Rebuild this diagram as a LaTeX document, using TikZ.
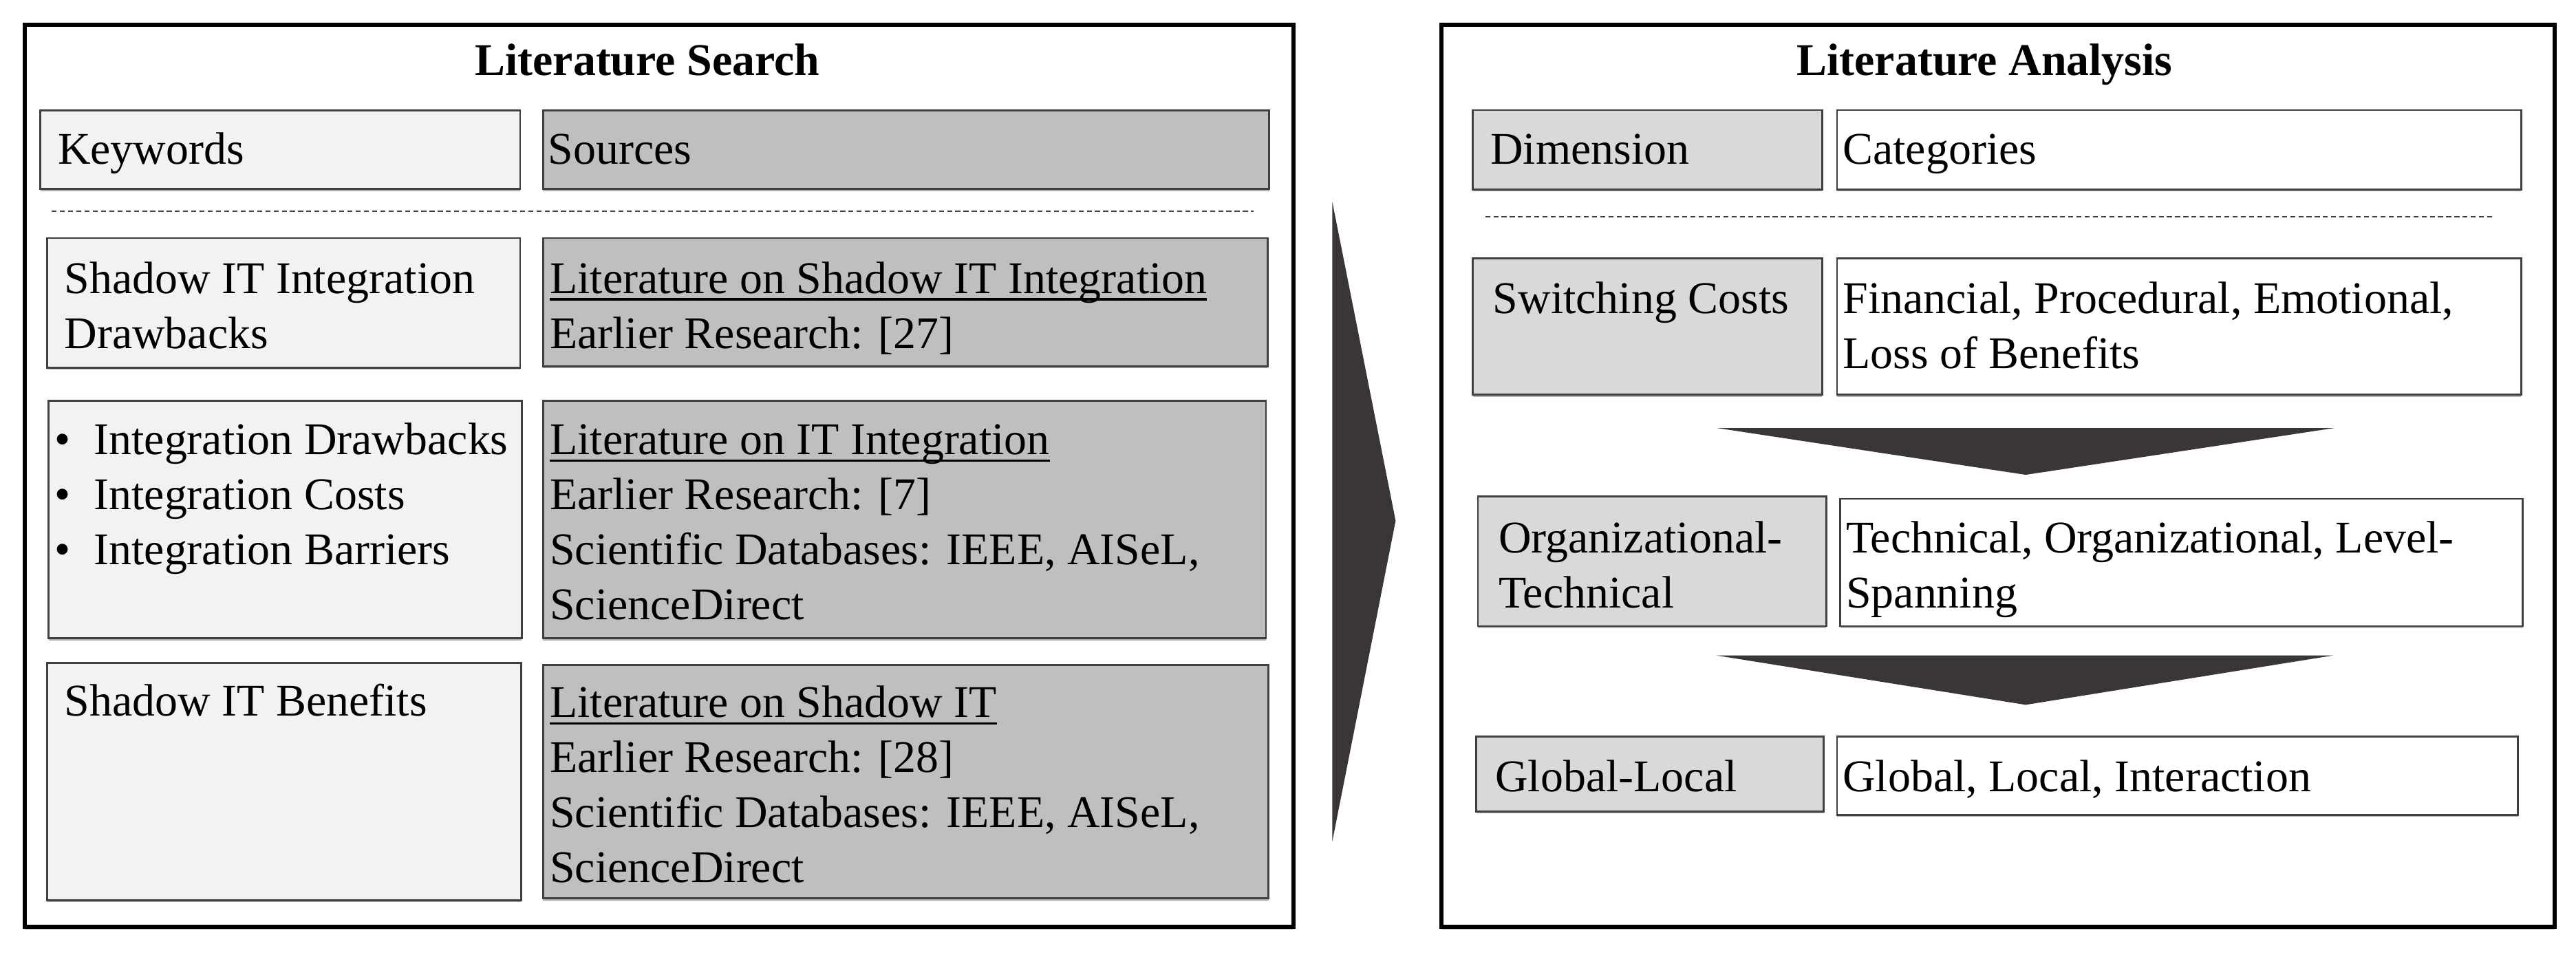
\documentclass[tikz,border=0pt]{standalone}
\usepackage{fontspec}
\setmainfont{Liberation Serif}
\usetikzlibrary{positioning,shadows}
\definecolor{kwfill}{HTML}{F2F2F2}
\definecolor{srcfill}{HTML}{BFBFBF}
\definecolor{dimfill}{HTML}{D9D9D9}
\definecolor{arrowfill}{HTML}{3A3636}
\definecolor{cellline}{HTML}{404040}
\newcommand\srcul[1]{\setbox0\hbox{#1}\rlap{\rule[-4.5pt]{\wd0}{1.5pt}}\box0}
\tikzset{
    cell/.style={draw=cellline, line width=1.2pt, anchor=north west, inner sep=0pt,
        drop shadow={shadow xshift=0pt, shadow yshift=-1.2pt, fill=black!50, opacity=0.6}},
    kwcell/.style={cell, fill=kwfill},
    srccell/.style={cell, fill=srcfill},
    dimcell/.style={cell, fill=dimfill},
    catcell/.style={cell, fill=white},
    txt/.style={anchor=base west, align=left, inner sep=0pt, font=\fontsize{27.6}{33.5}\selectfont},
    head/.style={anchor=base, inner sep=0pt, font=\fontsize{27.6}{33.5}\selectfont\bfseries},
    frame/.style={draw=black, line width=2.5pt, anchor=north west, inner sep=0pt,
        drop shadow={shadow xshift=0pt, shadow yshift=-1.5pt, fill=black!50, opacity=0.6}},
    sepline/.style={draw=black!75, line width=1pt, dash pattern=on 3pt off 2pt}
}
\begin{document}
\begin{tikzpicture}[x=1pt,y=-1pt]
			\useasboundingbox (0,0) rectangle (1568,581);
			% literature search (text nodes sit on their last baseline)
			\node[frame, fill=white, minimum width=772, minimum height=549] (search) at (14,14) {};
			\node[head] (searchTitle) at (394,45.8) {Literature Search};
			\node[kwcell, minimum width=292, minimum height=48] (kw) at (24,66.5) {};
			\node[srccell, minimum width=442, minimum height=48] (src) at (330,66.5) {};
			\node[txt] (kwText) at (35,100) {Keywords};
			\node[txt] (srcText) at (333.5,100) {Sources};
			\draw[sepline] (31.5,128.6) -- (763,128.6);
			\node[kwcell, minimum width=288, minimum height=79] (kwA) at (28,144.3) {};
			\node[srccell, minimum width=441, minimum height=78] (srcA) at (330,144.3) {};
			\node[txt] (kwAText) at (39,212) {Shadow IT Integration\\Drawbacks};
			\node[txt] (srcAText) at (334.5,212) {\srcul{Literature on Shadow IT Integration}\\Earlier Research: [27]};
			\node[kwcell, minimum width=288, minimum height=144.6] (kwB) at (29,243.4) {};
			\node[srccell, minimum width=440, minimum height=144.6] (srcB) at (330,243.4) {};
			\node[txt] (kwBText) at (33,343.7) {\makebox[24pt][l]{\textbullet}Integration Drawbacks\\\makebox[24pt][l]{\textbullet}Integration Costs\\\makebox[24pt][l]{\textbullet}Integration Barriers};
			\node[txt] (srcBText) at (334.5,377.2) {\srcul{Literature on IT Integration}\\Earlier Research: [7]\\Scientific Databases: IEEE, AISeL,\\ScienceDirect};
			\node[kwcell, minimum width=288.6, minimum height=144.4] (kwC) at (28,403) {};
			\node[srccell, minimum width=441.5, minimum height=142.2] (srcC) at (330,404) {};
			\node[txt] (kwCText) at (39,435.6) {Shadow IT Benefits};
			\node[txt] (srcCText) at (334.5,537.1) {\srcul{Literature on Shadow IT}\\Earlier Research: [28]\\Scientific Databases: IEEE, AISeL,\\ScienceDirect};
			% step arrow
			\fill[arrowfill] (811,123) -- (849.5,317) -- (811,512) -- cycle;
			% literature analysis
			\node[frame, fill=white, minimum width=677.6, minimum height=549] (analysis) at (876,14) {};
			\node[head] (analysisTitle) at (1208,45.8) {Literature Analysis};
			\node[dimcell, minimum width=212.5, minimum height=48.2] (dim) at (896,66.4) {};
			\node[catcell, minimum width=416.4, minimum height=48.2] (cat) at (1117.6,66.4) {};
			\node[txt] (dimText) at (907,100) {Dimension};
			\node[txt] (catText) at (1121.5,100) {Categories};
			\draw[sepline] (904,131.8) -- (1518,131.8);
			\node[dimcell, minimum width=212.5, minimum height=83] (dimA) at (896,156.7) {};
			\node[catcell, minimum width=416.4, minimum height=83] (catA) at (1117.6,156.7) {};
			\node[txt] (dimAText) at (908.5,190.6) {Switching Costs};
			\node[txt] (catAText) at (1121.5,224.1) {Financial, Procedural, Emotional,\\Loss of Benefits};
			\fill[arrowfill] (1045,260.5) -- (1421,260.5) -- (1233,289) -- cycle;
			\node[dimcell, minimum width=212, minimum height=78.8] (dimB) at (899,301.7) {};
			\node[catcell, minimum width=415.4, minimum height=77.5] (catB) at (1119.6,303) {};
			\node[txt] (dimBText) at (912,369.8) {Organizational-\\Technical};
			\node[txt] (catBText) at (1123.5,369.8) {Technical, Organizational, Level-\\Spanning};
			\fill[arrowfill] (1045,399) -- (1420,399) -- (1233,429) -- cycle;
			\node[dimcell, minimum width=211.6, minimum height=45.5] (dimC) at (898,447.8) {};
			\node[catcell, minimum width=414.4, minimum height=47.5] (catC) at (1117.6,447.8) {};
			\node[txt] (dimCText) at (910,481.9) {Global-Local};
			\node[txt] (catCText) at (1121.5,481.9) {Global, Local, Interaction};
		\end{tikzpicture}
\end{document}
